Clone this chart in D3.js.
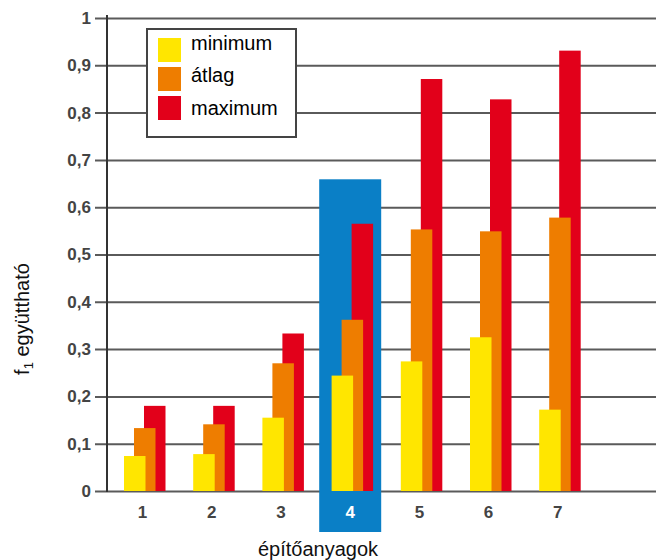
<!DOCTYPE html>
<html>
<head>
<meta charset="utf-8">
<script src="https://cdn.jsdelivr.net/npm/d3@7"></script>
<style>
  html, body { margin: 0; padding: 0; background: #fff; }
  svg { display: block; font-family: Arial, "Liberation Sans", sans-serif; }
</style>
</head>
<body>
<svg id="chart" width="656" height="560"></svg>
<script>
// ---- data ----
const categories = ["1", "2", "3", "4", "5", "6", "7"];
const seriesNames = ["minimum", "átlag", "maximum"];
const minimumValues = [0.074, 0.078, 0.155, 0.244, 0.274, 0.325, 0.172];
const atlagValues   = [0.133, 0.141, 0.270, 0.362, 0.553, 0.549, 0.578];
const maximumValues = [0.180, 0.180, 0.333, 0.565, 0.871, 0.828, 0.931];
const yTickValues = [0, 0.1, 0.2, 0.3, 0.4, 0.5, 0.6, 0.7, 0.8, 0.9, 1];
const yTickLabels = ["0", "0,1", "0,2", "0,3", "0,4", "0,5", "0,6", "0,7", "0,8", "0,9", "1"];
const highlightCategory = "4";
const highlightTop = 0.659;
const xTitle = "építőanyagok";
const yTitleMain = "f";
const yTitleSub = "1";
const yTitleRest = " együttható";

const colors = { "minimum": "#ffe600", "átlag": "#ee7d00", "maximum": "#e2001a" };
const seriesValues = { "minimum": minimumValues, "átlag": atlagValues, "maximum": maximumValues };

// ---- layout ----
const W = 656, H = 560;
const axisX = 107, y0 = 491, yTop = 18;
const svg = d3.select("#chart");

const x = d3.scaleBand().domain(categories).range([108, 592.4]).padding(0);
const y = d3.scaleLinear().domain([0, 1]).range([y0, yTop]);
const sub = d3.scalePoint().domain(seriesNames).range([16, 36]);
const barW = 21.5;

// grid + ticks via axis
const yAxis = d3.axisLeft(y)
  .tickValues(yTickValues)
  .tickFormat((d, i) => yTickLabels[i])
  .tickSizeInner(-(W - axisX))
  .tickSizeOuter(0)
  .tickPadding(16);

const gy = svg.append("g").attr("transform", `translate(${axisX},0)`).call(yAxis);
gy.select(".domain").remove();
gy.selectAll(".tick line")
  .attr("x1", -12)
  .attr("stroke", "#5a5a5a")
  .attr("stroke-width", 2);
gy.selectAll(".tick text")
  .attr("fill", "#444")
  .attr("font-size", 17)
  .attr("font-weight", "bold")
  .attr("font-family", "Arial, 'Liberation Sans', sans-serif");

// vertical axis line
svg.append("line")
  .attr("x1", axisX).attr("x2", axisX)
  .attr("y1", y(1) - 3).attr("y2", y0 + 1)
  .attr("stroke", "#333").attr("stroke-width", 2);

// highlight box
const hx = x(highlightCategory) + x.bandwidth() / 2 - 31;
svg.append("rect")
  .attr("x", hx)
  .attr("y", y(highlightTop))
  .attr("width", 62)
  .attr("height", (y0 + 41) - y(highlightTop))
  .attr("fill", "#0a7fc6");

// bars: red at back, yellow on top
const drawOrder = ["maximum", "átlag", "minimum"];
drawOrder.forEach(s => {
  svg.append("g").selectAll("rect")
    .data(categories.map((c, i) => ({ c, v: seriesValues[s][i] })))
    .join("rect")
    .attr("x", d => x(d.c) + sub(s))
    .attr("y", d => y(d.v))
    .attr("width", barW)
    .attr("height", d => y0 - y(d.v))
    .attr("fill", colors[s]);
});

// x axis labels
const xAxis = d3.axisBottom(x).tickSize(0).tickPadding(15);
const gx = svg.append("g").attr("transform", `translate(0,${y0})`).call(xAxis);
gx.select(".domain").remove();
gx.selectAll(".tick text")
  .attr("fill", d => d === highlightCategory ? "#fff" : "#444")
  .attr("font-size", 17)
  .attr("font-weight", "bold")
  .attr("font-family", "Arial, 'Liberation Sans', sans-serif");

// x title
svg.append("text")
  .attr("x", 318).attr("y", 556)
  .attr("text-anchor", "middle")
  .attr("font-size", 20)
  .attr("fill", "#111")
  .text(xTitle);

// y title
const yt = svg.append("text")
  .attr("transform", "translate(29,319) rotate(-90)")
  .attr("text-anchor", "middle")
  .attr("font-size", 20)
  .attr("fill", "#111");
yt.append("tspan").text(yTitleMain);
yt.append("tspan").attr("font-size", 13).attr("dy", 4).text(yTitleSub);
yt.append("tspan").attr("dy", -4).text(yTitleRest);

// legend
const lg = svg.append("g");
lg.append("rect")
  .attr("x", 147).attr("y", 29).attr("width", 149).attr("height", 108)
  .attr("fill", "#fff").attr("stroke", "#444").attr("stroke-width", 2);
const swY = d3.scalePoint().domain(seriesNames).range([38, 96]);
const txY = d3.scalePoint().domain(seriesNames).range([49.5, 115]);
lg.selectAll("rect.sw").data(seriesNames).join("rect")
  .attr("class", "sw")
  .attr("x", 158).attr("y", d => swY(d))
  .attr("width", 23).attr("height", 24)
  .attr("fill", d => colors[d]);
lg.selectAll("text").data(seriesNames).join("text")
  .attr("x", 191).attr("y", d => txY(d))
  .attr("font-size", 20)
  .attr("fill", "#000")
  .text(d => d);
</script>
</body>
</html>
